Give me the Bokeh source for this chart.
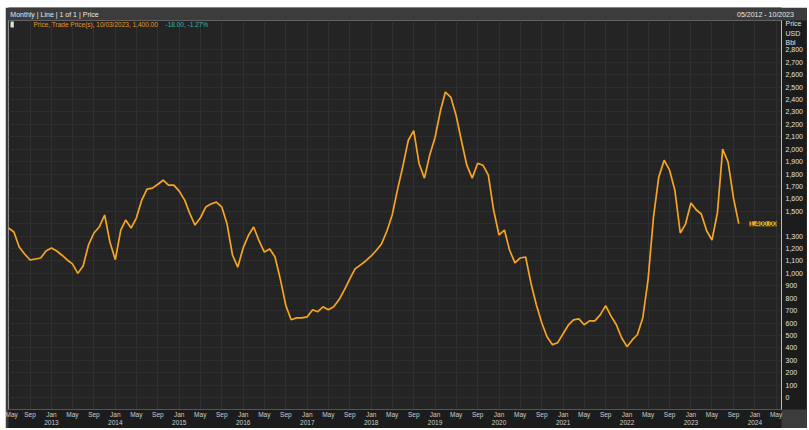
import pandas as pd
from bokeh.plotting import figure
from bokeh.models import (Range1d, FixedTicker, NumeralTickFormatter, LinearAxis,
                          CustomJSTickFormatter, Label, ColumnDataSource)
from bokeh.embed import file_html
from bokeh.resources import INLINE

# ---------------- data ----------------
start_month = "2012-05-01"
prices = [1365, 1333, 1213, 1156, 1108, 1116, 1124, 1180, 1205, 1180,
          1148, 1108, 1076, 1000, 1060, 1229, 1325, 1373, 1470, 1253,
          1110, 1349, 1429, 1365, 1445, 1590, 1678, 1686, 1718, 1750,
          1710, 1710, 1662, 1590, 1486, 1389, 1445, 1534, 1558, 1574,
          1534, 1397, 1148, 1050, 1205, 1309, 1373, 1261, 1172, 1196,
          1132, 948, 739, 626, 642, 642, 650, 707, 691, 731,
          707, 731, 787, 867, 956, 1036, 1068, 1100, 1140, 1188,
          1237, 1341, 1470, 1678, 1863, 2072, 2150, 1887, 1767, 1951,
          2096, 2313, 2460, 2417, 2272, 2064, 1871, 1767, 1887, 1871,
          1791, 1510, 1309, 1349, 1188, 1084, 1124, 1132, 923, 747,
          602, 490, 426, 442, 514, 586, 626, 634, 586, 618,
          618, 666, 740, 658, 586, 482, 410, 466, 506, 642,
          948, 1453, 1775, 1911, 1831, 1670, 1325, 1397, 1566, 1510,
          1478, 1341, 1269, 1486, 2000, 1895, 1606, 1400]
y_ticks = list(range(0, 2900, 100))
unit_ticks = {3012: "Price", 2932: "USD", 2859: "Bbl"}
hidden_tick_labels = {1400: ""}
x_tick_start = "2012-05-01"
x_tick_end = "2024-05-01"
header_text = "Monthly | Line | 1 of 1 | Price"
legend_name = "Price, Trade Price(s), 10/03/2023, 1,400.00"
legend_change = "-18.00, -1.27%"
date_span = "05/2012 - 10/2023"

dates = pd.date_range(start_month, periods=len(prices), freq="MS")
src = ColumnDataSource(dict(date=dates, price=prices))

def ms(ts):
    return int(pd.Timestamp(ts).timestamp() * 1000)

x_start = ms("2012-05-01")
x_end = ms("2024-06-01")
y_lo, y_hi = -96, 3036

W, H = 802, 421
LEFT, RIGHT, TOP, BOTTOM = 3, 26, 13, 18
FW, FH = W - LEFT - RIGHT, H - TOP - BOTTOM

HEADER = "#3c3c3c"
DARK = "#1c1c1c"
FONT = "Liberation Sans"
p = figure(width=W, height=H, x_axis_type="datetime", y_axis_location="right",
           output_backend="svg", toolbar_location=None,
           x_range=Range1d(x_start, x_end), y_range=Range1d(y_lo, y_hi),
           min_border_left=LEFT, min_border_right=RIGHT,
           min_border_top=TOP, min_border_bottom=BOTTOM,
           background_fill_color="#242424", border_fill_color=DARK,
           styles={"margin-left": "5px", "margin-top": "7px"})
p.outline_line_color = "#8a8a8a"
try:
    p.title = None
except Exception:
    p.title.visible = False

has_axis_bg = "background_fill_color" in p.yaxis[0].properties()
if has_axis_bg:
    p.border_fill_color = HEADER

xa = p.xaxis[0]
ya = p.yaxis[0]
if has_axis_bg:
    xa.background_fill_color = DARK
    ya.background_fill_color = DARK

# y axis
overrides = dict(unit_ticks)
overrides.update(hidden_tick_labels)
ya.ticker = FixedTicker(ticks=y_ticks + list(unit_ticks.keys()))
ya.formatter = NumeralTickFormatter(format="0,0")
ya.major_label_overrides = overrides
ya.major_label_text_font = FONT
ya.major_label_text_font_size = "7px"
ya.major_label_text_color = "#e0e0e0"
ya.axis_line_color = "#bbbbbb"
ya.major_tick_line_color = None
ya.major_tick_out = 0
ya.major_tick_in = 0
ya.minor_tick_line_color = None
ya.major_label_standoff = 4

# x axis
x_ticks = [ms(d) for d in pd.date_range(x_tick_start, x_tick_end, freq="4MS")]
xa.ticker = FixedTicker(ticks=x_ticks)
xa.formatter = CustomJSTickFormatter(code="""
const d = new Date(tick);
const names = ["Jan","Feb","Mar","Apr","May","Jun","Jul","Aug","Sep","Oct","Nov","Dec"];
const m = d.getUTCMonth();
return m == 0 ? names[m] + "\\n" + d.getUTCFullYear() : names[m];
""")
xa.major_label_text_font = FONT
xa.major_label_text_font_size = "6.5px"
xa.major_label_text_color = "#cccccc"
xa.axis_line_color = "#555555"
xa.major_tick_line_color = None
xa.major_tick_out = 0
xa.major_tick_in = 0
xa.minor_tick_line_color = None
xa.major_label_standoff = 1

p.xgrid.ticker = FixedTicker(ticks=x_ticks)
p.xgrid.grid_line_color = "#303030"
p.ygrid.ticker = FixedTicker(ticks=y_ticks)
p.ygrid.grid_line_color = "#2e2e2e"

# header row: an axis above the plot carrying the header texts
span = x_end - x_start
head_left = x_start + int(span * 46 / FW)
head_right = x_start + int(span * 757 / FW)
top_axis = LinearAxis(ticker=FixedTicker(ticks=[head_left, head_right]),
                      major_label_overrides={head_left: header_text, head_right: date_span},
                      axis_line_color=None, major_tick_line_color=None,
                      minor_tick_line_color=None, major_tick_out=0, major_tick_in=0,
                      major_label_standoff=3, major_label_text_font=FONT,
                      major_label_text_font_size="7px", major_label_text_color="#e6e6e6")
if has_axis_bg:
    top_axis.background_fill_color = HEADER
p.add_layout(top_axis, "above")

p.line(x="date", y="price", source=src, line_color="#f5a524", line_width=1.7)

# legend row
p.add_layout(Label(x=2, y=FH - 5, x_units="screen", y_units="screen", text="  ",
                   text_font_size="6px", background_fill_color="#dddddd",
                   text_baseline="middle"))
p.add_layout(Label(x=25, y=FH - 5, x_units="screen", y_units="screen", text=legend_name,
                   text_font=FONT, text_font_size="6.5px", text_color="#e39a2a",
                   text_baseline="middle"))
p.add_layout(Label(x=157, y=FH - 5, x_units="screen", y_units="screen", text=legend_change,
                   text_font=FONT, text_font_size="6.5px", text_color="#2fb8b0",
                   text_baseline="middle"))

# current value tag at the price axis
p.add_layout(Label(x=FW - 32, y=prices[-1], x_units="screen", text=f"{prices[-1]:,}.00",
                   text_font=FONT, text_font_size="7px", text_color="#000000",
                   background_fill_color="#f5a524", text_baseline="middle"))

open("out.html", "w").write(file_html(p, INLINE))
